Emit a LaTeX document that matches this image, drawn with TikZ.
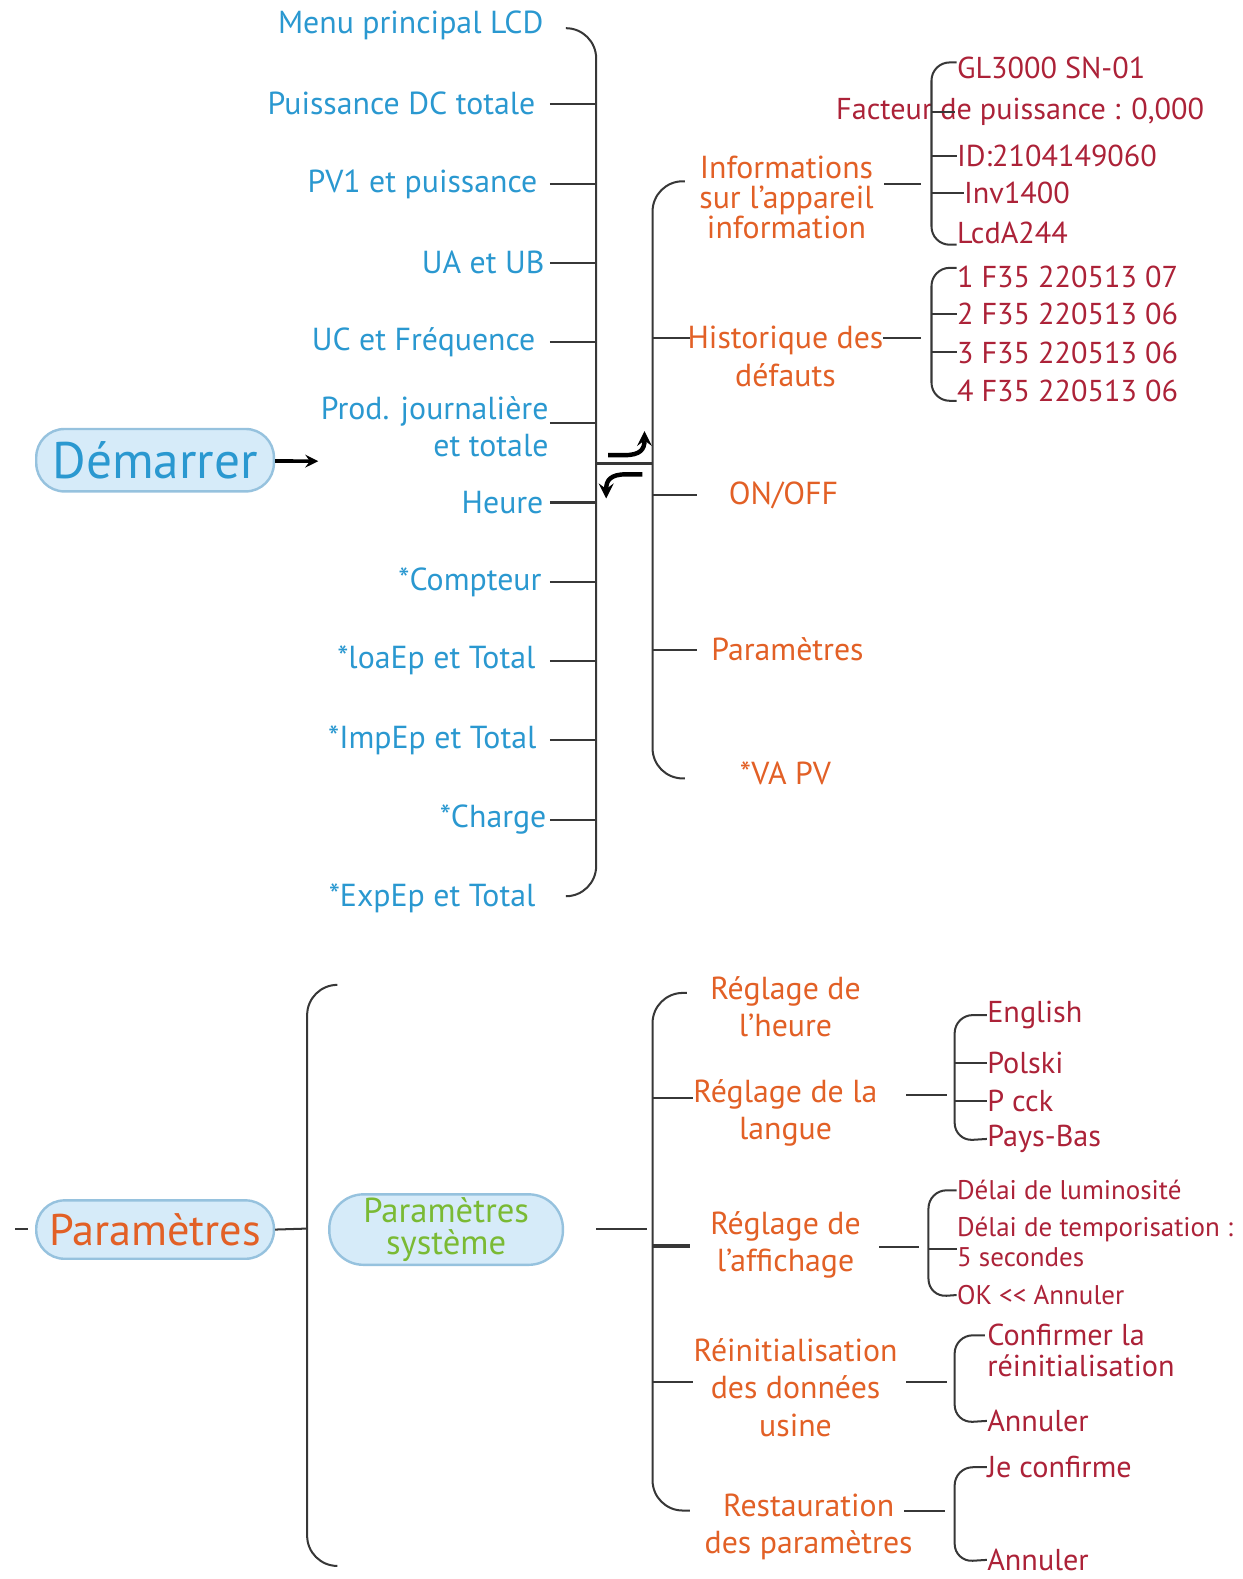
\documentclass[tikz,border=0pt]{standalone}
\usepackage{fontspec}
\setmainfont{PT Sans}
\usetikzlibrary{arrows,positioning}
\definecolor{cBleu}{RGB}{42,152,208}
\definecolor{cOrange}{RGB}{226,96,38}
\definecolor{cRouge}{RGB}{172,34,56}
\definecolor{cVert}{RGB}{122,186,52}
\definecolor{cFond}{RGB}{214,235,249}
\definecolor{cBord}{RGB}{150,194,222}
\definecolor{cTrait}{RGB}{55,55,55}
\tikzset{
  entree/.style={anchor=east, text=cBleu, align=right, inner sep=0pt,
    font=\fontsize{15.8}{18.5}\selectfont},
  menu/.style={text=cOrange, align=center, inner sep=0pt,
    font=\fontsize{15.8}{18.5}\selectfont},
  detail/.style={anchor=west, text=cRouge, align=left, inner sep=0pt,
    font=\fontsize{15}{15}\selectfont},
  petit/.style={detail, font=\fontsize{13.4}{15}\selectfont},
  pilule/.style={draw=cBord, fill=cFond, line width=1.2pt, rounded corners=14pt,
    minimum width=118pt, minimum height=31pt, inner sep=0pt,
    font=\fontsize{25.5}{25.5}\selectfont},
  trait/.style={draw=cTrait, line width=1pt},
  accolade/.style={draw=cTrait, line width=1pt, rounded corners=15pt},
  petite/.style={draw=cTrait, line width=1pt, rounded corners=9pt},
}

\begin{document}
\begin{tikzpicture}[x=0.5pt,y=-0.5pt]
      \useasboundingbox (0,0) rectangle (1234,1568);

      % menu principal
      \node[pilule, text=cBleu] (dem) at (154,457) {Démarrer};
      \coordinate (fl) at (316,458);
      \draw[-stealth, line width=1.8pt] (dem) -- (fl);

      \node[entree] (m1) at (540,25) {Menu principal LCD};
      \node[entree] (m2) at (532,103) {Puissance DC totale};
      \node[entree] (m3) at (534,183) {PV1 et puissance};
      \node[entree] (m4) at (541,261) {UA et UB};
      \node[entree] (m5) at (532,340) {UC et Fréquence};
      \node[entree] (m6) at (545,424) {Prod. journalière\\et totale};
      \node[entree] (m7) at (540,499) {Heure};
      \node[entree] (m8) at (538,578) {*Compteur};
      \node[entree] (m9) at (532,656) {*loaEp et Total};
      \node[entree] (m10) at (533,735) {*ImpEp et Total};
      \node[entree] (m11) at (543,814) {*Charge};
      \node[entree] (m12) at (532,892) {*ExpEp et Total};

      \coordinate (s1) at (546,0);
      \coordinate (b1) at (592,0);
      \draw[accolade] (562,28) -| (592,890) -- (562,890);
      \draw[trait] (m2 -| s1) -- (m2 -| b1);
      \draw[trait] (m3 -| s1) -- (m3 -| b1);
      \draw[trait] (m4 -| s1) -- (m4 -| b1);
      \draw[trait] (m5 -| s1) -- (m5 -| b1);
      \draw[trait] ([yshift=2pt]m6.east -| s1) -- ([yshift=2pt]m6.east -| b1);
      \draw[trait] (m7 -| s1) -- (m7 -| b1);
      \draw[trait] (m8 -| s1) -- (m8 -| b1);
      \draw[trait] (m9 -| s1) -- (m9 -| b1);
      \draw[trait] (m10 -| s1) -- (m10 -| b1);
      \draw[trait] (m11 -| s1) -- (m11 -| b1);

      % passage vers les sous-menus
      \coordinate (b2) at (648,0);
      \draw[draw=cTrait, line width=1.6pt] (592,460) -- (648,460);
      \draw[-stealth, line width=2.2pt] (604,452) -- (620,452)
        .. controls (636,452) and (640,446) .. (640,428);
      \draw[-stealth, line width=2.2pt] (638,471) -- (622,471)
        .. controls (606,471) and (602,477) .. (602,495);

      \node[menu, font=\fontsize{15.8}{14.8}\selectfont] (o1) at (781,196)
        {Informations\\sur l'appareil\\information};
      \node[menu] (o2) at (780,354) {Historique des\\défauts};
      \node[menu] (o3) at (778,492) {ON/OFF};
      \node[menu] (o4) at (782,645) {Paramètres};
      \node[menu] (o5) at (780,768) {*VA PV};

      \draw[accolade] (680,180) -| (648,773) -- (680,773);
      \draw[trait] (648,336) -- (685,336);
      \draw[trait] (o3 -| b2) -- (692,492);
      \draw[trait] (o4 -| b2) -- (692,645);

      % informations
      \coordinate (b3) at (925,0);
      \node[detail] (r1) at (950,67) {GL3000 SN-01};
      \node[detail, anchor=center] (r2) at (1013,111) {Facteur de puissance : 0,000};
      \node[detail] (r3) at (950,155) {ID:2104149060};
      \node[detail] (r4) at (957,192) {Inv1400};
      \node[detail] (r5) at (950,231) {LcdA244};
      \draw[trait] (878,183) -- (915,183);
      \draw[petite] (950,62) -| (925,243) -- (950,243);
      \draw[trait] (r2 -| b3) -- (948,111);
      \draw[trait] (r3 -| b3) -- (r3.west);
      \draw[trait] (r4 -| b3) -- (r4.west);

      % historique
      \node[detail] (r6) at (950,275) {1 F35 220513 07};
      \node[detail] (r7) at (950,312) {2 F35 220513 06};
      \node[detail] (r8) at (950,350) {3 F35 220513 06};
      \node[detail] (r9) at (950,388) {4 F35 220513 06};
      \draw[trait] (877,336) -- (915,336);
      \draw[petite] (950,266) -| (925,398) -- (950,398);
      \draw[trait] (r7 -| b3) -- (r7.west);
      \draw[trait] (r8 -| b3) -- (r8.west);

      % parametres
      \node[pilule, text=cOrange, minimum height=29pt,
        font=\fontsize{22}{22}\selectfont] (p1) at (154,1221) {Paramètres};
      \node[pilule, text=cVert, minimum width=116pt, minimum height=35pt,
        rounded corners=17pt, font=\fontsize{17.2}{15.6}\selectfont, align=center]
        (p2) at (443,1221) {Paramètres\\système};
      \coordinate (g) at (15,1220);
      \draw[trait] (g) -- (28,1220);
      \draw[trait] (p1.east) -- (305,1220);
      \draw[accolade] (335,978) -| (305,1555) -- (335,1555);
      \draw[trait] (592,1220) -- (642,1220);

      \coordinate (b5) at (648,0);
      \node[menu] (q1) at (780,1000) {Réglage de\\l'heure};
      \node[menu] (q2) at (780,1105) {Réglage de la\\langue};
      \node[menu] (q3) at (780,1236) {Réglage de\\l'affichage};
      \node[menu] (q4) at (790,1378) {Réinitialisation\\des données\\usine};
      \node[menu] (q5) at (803,1516) {Restauration\\des paramètres};
      \draw[accolade] (682,986) -| (648,1500) -- (685,1500);
      \draw[trait] (648,1090) -- (688,1090);
      \draw[draw=cTrait, line width=1.8pt] (648,1237) -- (685,1237);
      \draw[trait] (648,1372) -- (688,1372);

      % langue
      \node[detail] (l1) at (980,1008) {English};
      \node[detail] (l2) at (980,1056) {Polski};
      \node[detail] (l3) at (980,1093) {P cck};
      \node[detail] (l4) at (980,1131) {Pays-Bas};
      \draw[trait] (900,1087) -- (940,1087);
      \draw[petite] (l1.west) -| (948,1133) -- (l4.west);
      \draw[trait] (948,1056) -- (l2.west);
      \draw[trait] (948,1093) -- (l3.west);

      % affichage
      \node[petit] (a1) at (950,1182) {Délai de luminosité};
      \node[petit] (a2) at (950,1233) {Délai de temporisation :\\5 secondes};
      \node[petit] (a3) at (950,1286) {OK <{}< Annuler};
      \draw[trait] (873,1238) -- (913,1238);
      \draw[petite] (a1.west) -| (922,1288) -- (a3.west);
      \draw[trait] (922,1240) -- (a2.west |- 0,1240);

      % reinitialisation
      \node[detail] (c1) at (980,1341) {Confirmer la\\réinitialisation};
      \node[detail] (c2) at (980,1411) {Annuler};
      \draw[trait] (900,1372) -- (940,1372);
      \draw[petite] (978,1326) -| (948,1413) -- (c2.west);

      % restauration
      \node[detail] (d1) at (980,1457) {Je confirme};
      \node[detail] (d2) at (980,1549) {Annuler};
      \draw[trait] (898,1500) -- (938,1500);
      \draw[petite] (d1.west) -| (948,1551) -- (d2.west);
\end{tikzpicture}
\end{document}
